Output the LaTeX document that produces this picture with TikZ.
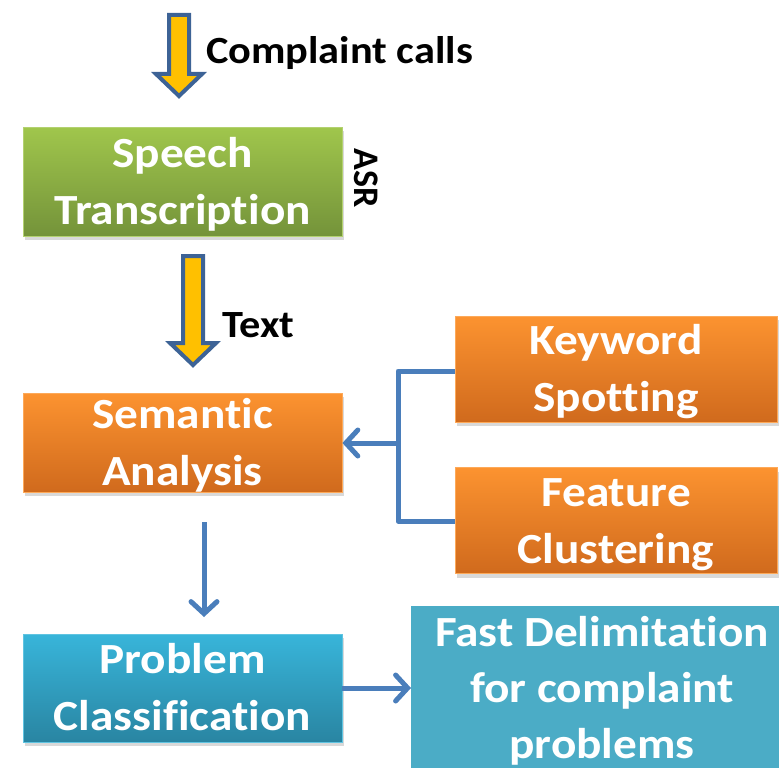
\documentclass[tikz,border=0pt]{standalone}
\usepackage{graphicx}
\usepackage{fontspec}
\setmainfont{Carlito}[Ligatures=NoCommon]
\usetikzlibrary{arrows.meta,shadows}
\definecolor{grtop}{HTML}{A0C64C}
\definecolor{grbot}{HTML}{74933A}
\definecolor{ortop}{HTML}{FC9330}
\definecolor{orbot}{HTML}{D06A1D}
\definecolor{bltop}{HTML}{38B5DA}
\definecolor{blbot}{HTML}{2985A2}
\definecolor{fastc}{HTML}{4BACC6}
\definecolor{conn}{HTML}{4A7EBB}
\definecolor{barrowline}{HTML}{3D6396}
\definecolor{barrowfill}{HTML}{FFC000}
\newcommand{\wtext}[1]{\smash{\raisebox{14.5pt}{\scalebox{1.1}[1]{\begin{tabular}[t]{@{}c@{}}#1\end{tabular}}}}}
\newcommand{\wlabel}[1]{\scalebox{1.1}[1]{#1}}
\begin{document}
\begin{tikzpicture}[x=1pt,y=-1pt,
  procbox/.style={rectangle, inner sep=0pt, text=white, align=center,
    font=\fontsize{43}{57}\selectfont\bfseries,
    drop shadow={opacity=0.3, shadow xshift=2pt, shadow yshift=-4pt}},
  greenbox/.style={procbox, top color=grtop, bottom color=grbot, draw=grtop!80!white, line width=0.8pt},
  orangebox/.style={procbox, top color=ortop, bottom color=orbot, draw=ortop!80!white, line width=0.8pt},
  bluebox/.style={procbox, top color=bltop, bottom color=blbot, draw=bltop!80!white, line width=0.8pt},
  label/.style={inner sep=0pt, text=black, font=\fontsize{38.5}{42}\selectfont\bfseries},
  conline/.style={draw=conn, line width=5pt},
  conarrow/.style={conline, -{Straight Barb[length=12pt, width=26pt, line cap=round]}},
  blockarrow/.style={fill=barrowfill, draw=barrowline, line width=4pt, line join=miter}
]
\useasboundingbox (0,0) rectangle (779,768);
\clip (0,0) rectangle (779,768);

% block arrows
\draw[blockarrow] (169,15) -- (189,15) -- (189,74) -- (202,74) -- (179,96) -- (156,74) -- (169,74) -- cycle;
\draw[blockarrow] (183,256) -- (203,256) -- (203,343) -- (216,343) -- (193,365) -- (170,343) -- (183,343) -- cycle;

% labels
\node[label, anchor=west] (calls) at (206,53) {\wlabel{Complaint calls}};
\node[label, anchor=west] (txt) at (222,325) {\wlabel{Text}};
\node[label, rotate=-90, font=\fontsize{36}{40}\selectfont\bfseries] (asr) at (366,178) {ASR};

% boxes
\node[greenbox, minimum width=319pt, minimum height=109pt] (speech) at (182.5,181.5) {\wtext{Speech\\Transcription}};
\node[orangebox, minimum width=319pt, minimum height=99pt] (semantic) at (182.5,442.5) {\wtext{Semantic\\Analysis}};
\node[orangebox, minimum width=322pt, minimum height=106pt] (keyword) at (616,369) {\wtext{Keyword\\Spotting}};
\node[orangebox, minimum width=322pt, minimum height=106pt] (feature) at (616,520.5) {\wtext{Feature\\Clustering}};
\node[bluebox, minimum width=319pt, minimum height=108pt] (problem) at (182.5,688) {\wtext{Problem\\Classification}};
\node[rectangle, inner sep=0pt, fill=fastc, minimum width=368pt, minimum height=168pt, anchor=north west] (fast) at (411,606) {};
\node[inner sep=0pt, text=white, align=center, font=\fontsize{43}{56}\selectfont\bfseries, anchor=north] (fasttext) at (602,607) {\scalebox{1.1}[1]{\begin{tabular}{@{}c@{}}Fast Delimitation\\for complaint\\problems\end{tabular}}};

% connectors
\coordinate (junc) at (398,443);
\draw[conline, line join=round] (keyword.west |- 0,371) -| (398,521) -- (feature.west |- 0,521);
\draw[conarrow] (junc) -- (semantic.east |- junc);
\coordinate (downstart) at (204,522);
\draw[conarrow] (downstart) -- (204,617);
\draw[conarrow] (problem.east) -- (fast.west |- problem.east);
\end{tikzpicture}
\end{document}
